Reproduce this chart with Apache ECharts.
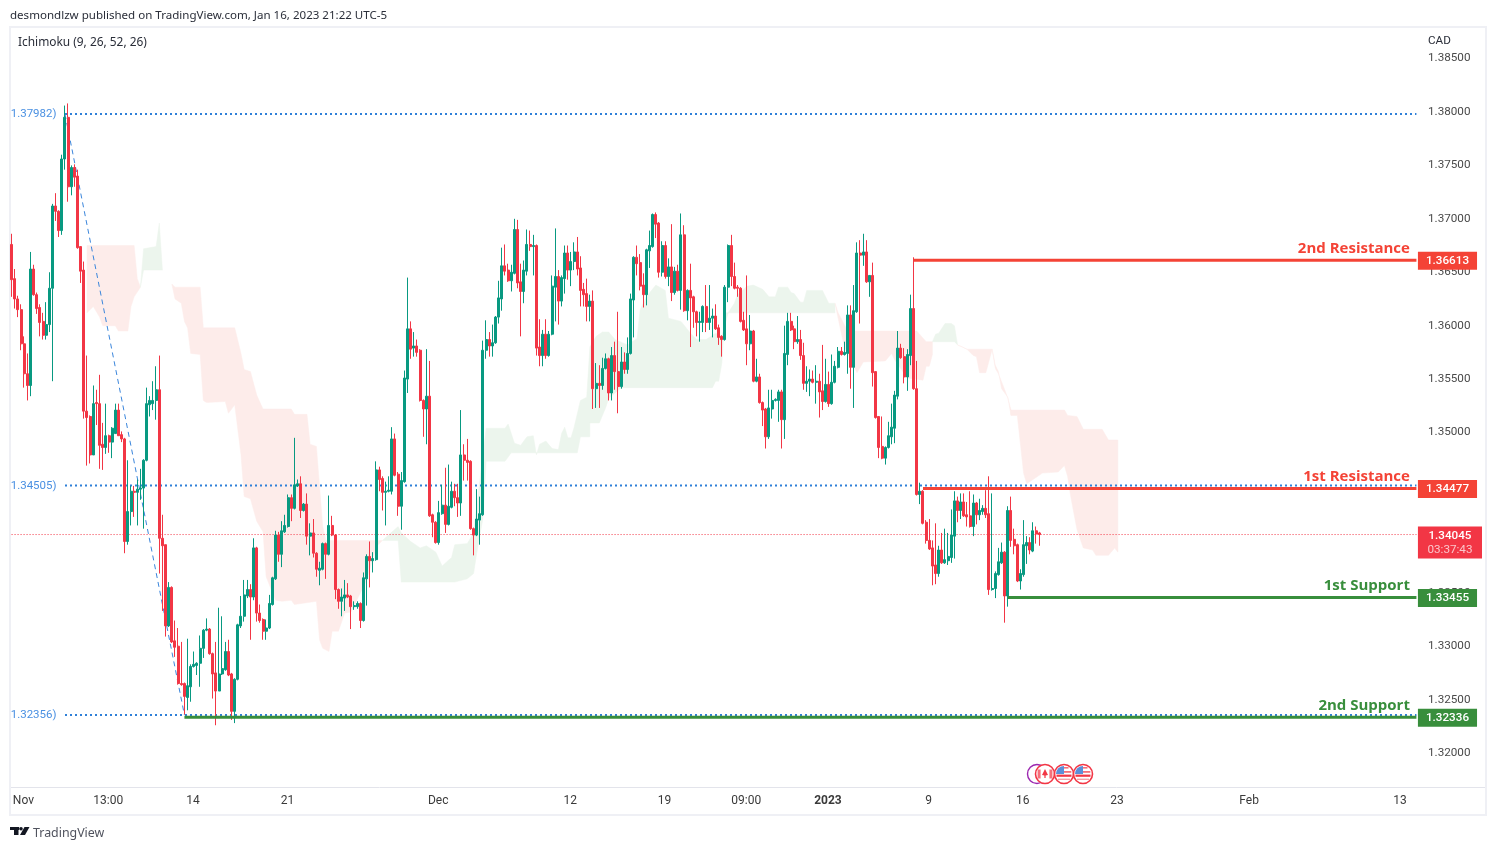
<!DOCTYPE html>
<html><head><meta charset="utf-8">
<style>html,body{margin:0;padding:0;background:#fff}#c{width:1496px;height:850px}</style>
<script src="https://cdn.jsdelivr.net/npm/echarts@6/dist/echarts.min.js"></script>
</head><body><div id="c"></div>
<script>
// All prices below are in units of 0.0001 (USD/CAD 4h candles)
const opens=[13676,13644,13625,13615,13583,13555,13544,13653,13629,13617,
13604,13591,13601,13635,13712,13707,13689,13756,13795,13730,
13748,13740,13674,13652,13520,13515,13479,13528,13527,13489,
13486,13497,13491,13499,13521,13498,13494,13398,13426,13445,
13444,13447,13448,13474,13526,13527,13530,13540,13401,13395,
13319,13355,13305,13300,13265,13265,13252,13262,13281,13282,
13284,13298,13315,13316,13293,13275,13258,13274,13278,13295,
13274,13239,13269,13319,13328,13347,13353,13346,13392,13331,
13325,13314,13317,13339,13363,13404,13386,13407,13412,13439,
13429,13450,13452,13427,13433,13403,13406,13387,13371,13372,
13396,13386,13413,13404,13353,13342,13345,13348,13347,13337,
13337,13340,13324,13363,13384,13380,13381,13465,13457,13444,
13445,13445,13494,13461,13431,13454,13550,13597,13579,13581,
13577,13530,13522,13534,13423,13416,13397,13424,13432,13414,
13430,13445,13439,13434,13479,13474,13473,13410,13404,13418,
13423,13577,13587,13581,13584,13608,13625,13656,13652,13642,
13649,13690,13641,13632,13651,13676,13674,13675,13580,13572,
13592,13572,13592,13636,13646,13623,13644,13668,13652,13660,
13669,13654,13634,13630,13618,13623,13541,13546,13544,13560,
13569,13537,13572,13557,13543,13566,13559,13574,13624,13664,
13659,13638,13629,13670,13674,13704,13696,13650,13675,13646,
13655,13631,13651,13633,13685,13614,13633,13627,13613,13603,
13603,13618,13603,13607,13609,13598,13590,13587,13636,13675,
13646,13636,13635,13605,13597,13583,13595,13548,13552,13528,
13522,13496,13522,13530,13530,13538,13512,13573,13604,13597,
13585,13587,13572,13546,13548,13550,13547,13548,13539,13529,
13545,13527,13547,13561,13576,13573,13574,13610,13561,13613,
13668,13666,13669,13641,13647,13557,13515,13487,13476,13486,
13496,13504,13534,13579,13571,13552,13572,13616,13541,13442,
13445,13416,13399,13392,13376,13368,13390,13378,13380,13383,
13403,13436,13427,13435,13423,13422,13412,13434,13423,13426,
13429,13424,13353,13354,13367,13378,13388,13347,13427,13400,
13395,13361,13367,13394,13397,13389,13408,13406];
const closes=[13643,13625,13615,13583,13555,13544,13653,13629,13616,13603,
13591,13601,13635,13712,13707,13689,13756,13795,13730,13748,
13739,13673,13651,13520,13514,13479,13527,13527,13488,13486,
13497,13491,13504,13521,13497,13494,13398,13426,13445,13444,
13447,13448,13474,13527,13530,13530,13540,13401,13394,13319,
13355,13304,13299,13265,13264,13253,13263,13281,13283,13284,
13298,13315,13316,13293,13274,13258,13274,13279,13295,13273,
13239,13269,13320,13328,13348,13353,13346,13392,13331,13324,
13314,13317,13340,13364,13404,13386,13408,13413,13439,13429,
13451,13452,13427,13433,13403,13406,13387,13372,13373,13396,
13386,13413,13404,13353,13342,13346,13348,13346,13337,13338,
13340,13324,13364,13384,13380,13382,13465,13456,13444,13445,
13446,13494,13460,13431,13455,13551,13597,13578,13581,13575,
13530,13522,13534,13422,13416,13397,13425,13432,13414,13431,
13445,13439,13434,13479,13474,13472,13410,13404,13419,13424,
13577,13587,13581,13584,13608,13626,13656,13651,13642,13650,
13690,13640,13632,13652,13676,13674,13675,13579,13572,13592,
13572,13592,13637,13646,13623,13645,13668,13652,13660,13669,
13653,13633,13629,13618,13623,13541,13546,13544,13560,13569,
13537,13572,13557,13543,13566,13559,13574,13625,13664,13658,
13637,13629,13671,13675,13704,13695,13650,13675,13646,13655,
13631,13651,13633,13685,13614,13633,13626,13613,13603,13604,
13618,13603,13607,13609,13597,13589,13587,13636,13675,13646,
13635,13635,13604,13596,13583,13595,13548,13552,13528,13521,
13496,13523,13530,13531,13538,13512,13574,13604,13596,13585,
13587,13572,13546,13548,13550,13547,13548,13538,13529,13545,
13527,13547,13562,13576,13573,13575,13610,13561,13614,13668,
13666,13669,13641,13647,13556,13514,13486,13476,13486,13497,
13505,13535,13579,13570,13552,13573,13616,13541,13442,13445,
13415,13399,13391,13375,13368,13390,13378,13381,13384,13404,
13436,13427,13435,13422,13421,13412,13434,13423,13427,13429,
13423,13353,13354,13368,13379,13388,13347,13427,13399,13394,
13361,13368,13395,13397,13390,13408,13405,13404.5];
const lows=[13627,13616,13608,13577,13542,13530,13534,13628,13611,13590,
13587,13587,13594,13548,13698,13683,13685,13746,13716,13722,
13730,13672,13640,13513,13469,13471,13479,13507,13466,13465,
13480,13481,13476,13499,13497,13491,13387,13395,13413,13421,
13413,13437,13410,13473,13515,13521,13512,13368,13333,13309,
13318,13303,13290,13264,13263,13236,13240,13248,13280,13273,
13262,13289,13314,13292,13251,13226,13258,13273,13277,13272,
13231,13228,13268,13317,13323,13345,13306,13343,13323,13322,
13306,13306,13316,13338,13362,13379,13374,13406,13411,13417,
13428,13449,13420,13426,13395,13385,13383,13365,13357,13371,
13363,13385,13403,13344,13335,13328,13333,13345,13316,13334,
13335,13317,13323,13338,13355,13369,13380,13445,13427,13413,
13444,13442,13459,13422,13409,13453,13537,13569,13571,13571,
13529,13496,13489,13421,13402,13396,13395,13423,13406,13413,
13429,13431,13421,13422,13455,13455,13409,13385,13403,13395,
13422,13569,13571,13571,13583,13602,13614,13647,13641,13632,
13648,13635,13590,13621,13647,13670,13647,13572,13562,13562,
13569,13571,13591,13604,13601,13618,13630,13643,13637,13652,
13647,13618,13618,13604,13604,13522,13523,13523,13540,13559,
13530,13530,13540,13518,13541,13555,13555,13573,13589,13647,
13633,13617,13619,13654,13673,13682,13645,13646,13644,13637,
13623,13629,13632,13615,13613,13605,13580,13598,13590,13585,
13594,13594,13596,13589,13596,13582,13571,13586,13622,13637,
13634,13627,13603,13595,13563,13577,13547,13547,13527,13506,
13485,13494,13513,13529,13510,13485,13494,13563,13595,13578,
13583,13568,13540,13538,13534,13546,13527,13514,13521,13528,
13524,13526,13546,13560,13572,13572,13555,13541,13523,13612,
13602,13656,13640,13627,13543,13513,13476,13475,13470,13485,
13489,13490,13531,13569,13546,13539,13563,13540,13441,13433,
13414,13396,13390,13357,13358,13365,13377,13377,13376,13378,
13382,13416,13419,13421,13412,13411,13403,13414,13418,13423,
13420,13348,13352,13345,13366,13377,13322,13337,13393,13386,
13360,13353,13365,13377,13386,13388,13396,13394];
const highs=[13686,13653,13628,13620,13590,13574,13669,13657,13631,13620,
13612,13622,13650,13714,13724,13708,13760,13806,13808,13750,
13751,13746,13674,13660,13572,13516,13544,13540,13554,13509,
13527,13498,13505,13527,13527,13501,13495,13474,13450,13450,
13456,13466,13475,13542,13534,13548,13562,13572,13423,13395,
13360,13356,13324,13317,13304,13266,13307,13283,13295,13285,
13310,13316,13326,13317,13294,13304,13336,13328,13304,13306,
13275,13270,13321,13347,13362,13362,13358,13401,13393,13339,
13326,13325,13348,13365,13408,13407,13417,13423,13442,13442,
13495,13456,13459,13434,13443,13415,13419,13388,13379,13397,
13397,13441,13422,13405,13354,13354,13362,13359,13348,13342,
13342,13341,13369,13386,13398,13388,13473,13468,13459,13454,
13459,13505,13499,13463,13463,13558,13645,13604,13594,13587,
13578,13531,13578,13567,13424,13417,13436,13451,13467,13470,
13454,13452,13452,13521,13489,13494,13474,13411,13447,13440,
13586,13605,13594,13601,13609,13642,13673,13676,13658,13657,
13700,13699,13658,13661,13690,13689,13685,13676,13606,13596,
13606,13595,13647,13691,13652,13647,13675,13675,13669,13678,
13683,13665,13640,13644,13629,13633,13565,13563,13570,13574,
13570,13580,13585,13613,13580,13575,13589,13630,13665,13675,
13667,13649,13672,13689,13705,13706,13697,13679,13679,13663,
13695,13655,13657,13705,13694,13634,13658,13628,13614,13613,
13619,13638,13638,13616,13620,13601,13591,13638,13676,13685,
13659,13638,13636,13613,13647,13610,13596,13569,13555,13529,
13523,13540,13540,13532,13540,13540,13600,13612,13612,13600,
13609,13596,13584,13562,13559,13558,13563,13555,13582,13569,
13557,13573,13567,13580,13580,13585,13619,13619,13638,13678,
13680,13686,13680,13647,13659,13557,13515,13515,13487,13510,
13527,13539,13595,13583,13579,13578,13629,13664,13567,13453,
13446,13418,13419,13399,13415,13394,13406,13410,13406,13428,
13445,13440,13443,13443,13435,13445,13442,13435,13438,13432,
13446,13459,13443,13370,13392,13397,13389,13431,13440,13410,
13396,13372,13418,13403,13402,13416,13412,13407];

// Ichimoku cloud outlines: [candle index, price]
const kumoRed1=[[24,13675],[39,13675],[40,13644],[41,13636],[39,13627],[38,13618],[37,13595],[34,13595],[33,13600],[29,13600],[28,13608],[26,13618],[24,13612]];
const kumoGreen1=[[41,13636],[42,13672],[46,13674],[47,13696],[48,13652],[42,13652]];
const kumoRed2=[[51,13639],[52,13636],[60,13636],[61,13598],[71,13598],[73,13574],[74,13559],[76,13557],[78,13535],[80,13522],[89,13522],[90,13517],[94,13517],[95,13489],[97,13487],[99,13412],[100,13399],[118,13399],[116,13393],[113,13362],[108,13332],[106,13331],[104,13314],[102,13314],[101,13295],[99,13298],[98,13306],[97,13342],[90,13339],[89,13343],[86,13342],[84,13343],[81,13365],[80,13407],[78,13417],[76,13438],[74,13440],[73,13479],[71,13526],[69,13518],[68,13529],[62,13528],[61,13530],[60,13573],[57,13574],[56,13598],[55,13604],[54,13621],[52,13625]];
const kumoGreen2=[[118,13399],[123,13412],[124,13406],[127,13398],[130,13392],[132,13394],[135,13388],[137,13375],[140,13383],[141,13395],[145,13396],[147,13406],[151,13504],[157,13504],[158,13508],[159,13499],[160,13490],[162,13488],[164,13496],[166,13497],[167,13479],[168,13489],[170,13492],[172,13485],[174,13484],[175,13499],[176,13505],[177,13495],[178,13495],[179,13505],[181,13530],[183,13533],[184,13580],[186,13590],[188,13594],[190,13594],[192,13587],[196,13582],[199,13588],[200,13615],[202,13627],[205,13638],[208,13633],[209,13607],[213,13604],[216,13593],[218,13587],[221,13587],[224,13593],[226,13590],[228,13612],[230,13621],[231,13629],[234,13637],[236,13638],[239,13634],[241,13627],[243,13627],[244,13636],[247,13636],[248,13631],[249,13630],[251,13622],[252,13622],[253,13633],[258,13633],[260,13621],[262,13621],[262,13612],[227,13612],[226,13565],[225,13548],[224,13548],[223,13542],[194,13542],[190,13532],[189,13523],[187,13509],[184,13509],[184,13496],[181,13496],[180,13481],[159,13481],[157,13473],[151,13473],[150,13420],[148,13387],[147,13368],[145,13363],[141,13360],[124,13360],[123,13399]];
const kumoRed3=[[262,13621],[263,13612],[266,13595],[288,13595],[291,13585],[293,13585],[293,13573],[292,13562],[291,13562],[290,13549],[285,13551],[281,13568],[280,13574],[278,13567],[271,13566],[269,13556],[268,13562],[265,13580],[264,13593]];
const kumoGreen3=[[293,13585],[294,13592],[295,13593],[297,13602],[299,13602],[300,13600],[301,13582],[300,13585]];
const kumoRed4=[[301,13582],[304,13578],[312,13578],[310,13556],[308,13556],[307,13571],[306,13572],[304,13578]];
const kumoRed5=[[312,13578],[313,13560],[314,13555],[316,13540],[317,13532],[318,13521],[318,13516],[317,13533],[315,13541],[314,13557],[313,13563]];
const kumoRed6=[[318,13521],[335,13521],[336,13516],[339,13515],[341,13503],[347,13503],[349,13493],[352,13493],[352,13388],[351,13392],[349,13385],[345,13385],[344,13390],[341,13392],[339,13409],[337,13440],[336,13459],[335,13469],[333,13463],[328,13462],[325,13456],[323,13452],[322,13462],[320,13516],[318,13516]];

const axisCount=448;
const tickIndex=[4,31,58,88,136,178,208,234,260,292,322,352,394,442];
const tickText=['Nov','13:00','14','21','Dec','12','19','09:00','2023','9','16','23','Feb','13'];
const priceTicks=[1.32,1.325,1.33,1.335,1.34,1.345,1.35,1.355,1.36,1.365,1.37,1.375,1.38,1.385];

const swingPrices=[1.37982,1.34505,1.32356];
const swingStart=17;
const zigzagIndex=[17,55];
const zigzagPrices=[1.3798,1.32356];
const lastPrice=1.34045;
const countdown='03:37:43';
const levelNames=['2nd Resistance','1st Resistance','1st Support','2nd Support'];
const levelPrices=[1.36613,1.34477,1.33455,1.32336];
const levelStart=[287,290,317,55];
const levelColors=['#F44336','#F44336','#388E3C','#388E3C'];

const UP='#089981',DOWN='#F23645',RED_K='#FDECEA',GREEN_K='#ECF5ED',BLUE='#2F80D8';
const FONT='Roboto, "Noto Sans", sans-serif';
const P=v=>v/10000;
const lastIdx=axisCount-1;

const categories=Array.from({length:axisCount},(_,i)=>{const k=tickIndex.indexOf(i);return k>=0?tickText[k]:'';});
const candles=opens.map((o,i)=>[P(o),P(closes[i]),P(lows[i]),P(highs[i])]);
const kumos=[[kumoRed1,RED_K],[kumoGreen1,GREEN_K],[kumoRed2,RED_K],[kumoGreen2,GREEN_K],[kumoRed3,RED_K],[kumoGreen3,GREEN_K],[kumoRed4,RED_K],[kumoRed5,RED_K],[kumoRed6,RED_K]];

const series=[];
series.push({type:'custom',coordinateSystem:'cartesian2d',z:1,silent:true,clip:true,
  data:kumos.map((k,i)=>[k[0][0][0],i]),encode:{x:0,y:1},
  renderItem:(p,api)=>{const k=kumos[p.dataIndex];
    return {type:'polygon',shape:{points:k[0].map(q=>api.coord([q[0],P(q[1])]))},style:{fill:k[1],stroke:k[1],lineWidth:0.5}};}
});
series.push({type:'line',z:2,symbol:'none',silent:true,data:[[0,lastPrice],[lastIdx,lastPrice]],lineStyle:{color:DOWN,width:1,type:[1,2]}});
series.push({type:'line',z:2,symbol:'none',silent:true,data:zigzagIndex.map((x,i)=>[x,zigzagPrices[i]]),lineStyle:{color:'#3B86DC',width:1,type:[5,4]}});
swingPrices.forEach(v=>series.push({type:'line',z:2,symbol:'none',silent:true,data:[[swingStart,v],[lastIdx,v]],lineStyle:{color:BLUE,width:2,type:[2,3]}}));
series.push({type:'candlestick',z:3,barWidth:2.5,silent:true,data:candles,
  itemStyle:{color:UP,color0:DOWN,borderColor:UP,borderColor0:DOWN,borderWidth:1}});
levelPrices.forEach((v,i)=>series.push({type:'line',z:4,symbol:'none',silent:true,data:[[levelStart[i],v],[lastIdx,v]],lineStyle:{color:levelColors[i],width:3}}));
const hidden={color:'transparent',opacity:1};
series.push({type:'scatter',z:5,silent:true,symbolSize:1,itemStyle:hidden,
  data:swingPrices.map(v=>({value:[swingStart,v],label:{show:true,position:'left',distance:8,offset:[0,0.5],color:'#4A90E2',fontFamily:FONT,fontSize:11.5,formatter:v.toFixed(5)+')'}}))});
series.push({type:'scatter',z:6,silent:true,symbolSize:1,itemStyle:hidden,
  data:levelPrices.map((v,i)=>({value:[lastIdx,v],label:{show:true,position:'left',distance:6,offset:[0,-11.5],color:levelColors[i],fontFamily:'"Open Sans",sans-serif',fontWeight:700,fontSize:15,formatter:levelNames[i]}}))});
series.push({type:'scatter',z:7,silent:true,symbolSize:1,itemStyle:hidden,
  data:levelPrices.map((v,i)=>({value:[lastIdx,v],label:{show:true,position:'right',distance:1,offset:[0,0.5],color:'#fff',backgroundColor:levelColors[i],fontFamily:FONT,fontSize:11.7,fontWeight:500,padding:[3.5,8,2.5,8],lineHeight:12,formatter:v.toFixed(5)}}))});
series.push({type:'scatter',z:7,silent:true,symbolSize:1,itemStyle:hidden,
  data:[{value:[lastIdx,lastPrice],label:{show:true,position:'right',distance:1,offset:[0,8],backgroundColor:DOWN,padding:[3,9.5,1,9.5],formatter:'{a|'+lastPrice.toFixed(5)+'}\n{b|'+countdown+'}',
    rich:{a:{color:'#fff',fontFamily:FONT,fontSize:11.7,fontWeight:500,lineHeight:14,align:'center'},b:{color:'#FBC5CA',fontFamily:FONT,fontSize:11.7,lineHeight:14,align:'center'}}}}]});

// Page furniture
const txt=(x,y,t,o)=>({type:'text',silent:true,x,y,style:Object.assign({text:t,fill:'#3a3a3a',font:'11.7px '+FONT,textVerticalAlign:'middle'},o||{})});
const rect=(x,y,w,h,fill)=>({type:'rect',silent:true,shape:{x,y,width:w,height:h},style:{fill}});
function usFlag(cx,cy){return [
 {type:'circle',silent:true,shape:{cx,cy,r:9.5},style:{fill:'#fff',stroke:DOWN,lineWidth:1.6}},
 {type:'sector',silent:true,shape:{cx,cy,r:8,r0:0,startAngle:Math.PI,endAngle:Math.PI*1.5},style:{fill:'#5B8FD9'}},
 rect(cx,cy-7,4.5,1.6,'#F5707A'),rect(cx,cy-3,7.3,1.8,'#F5707A'),rect(cx-7.5,cy+0.6,15,2.2,'#F23645'),rect(cx-6,cy+4.6,12,1.4,'#F5A0A6')];}
function caFlag(cx,cy){return [
 {type:'circle',silent:true,shape:{cx:cx-8,cy,r:9.5},style:{fill:'#fff',stroke:'#9C27B0',lineWidth:1.4}},
 {type:'circle',silent:true,shape:{cx,cy,r:9.5},style:{fill:'#fff',stroke:DOWN,lineWidth:1.6}},
 rect(cx-7.4,cy-4.5,3,9,'#F5707A'),rect(cx+4.4,cy-4.5,3,9,'#F5707A'),
 {type:'polygon',silent:true,shape:{points:[[cx,cy-5],[cx+3,cy+1],[cx+0.6,cy+1.5],[cx+0.6,cy+4],[cx-0.6,cy+4],[cx-0.6,cy+1.5],[cx-3,cy+1]]},style:{fill:'#F23645'}}];}
const graphics=[
 {type:'rect',silent:true,z:-1,shape:{x:10,y:27,width:1476,height:788},style:{fill:'none',stroke:'#EFF0F5',lineWidth:2}},
 {type:'line',silent:true,shape:{x1:11,y1:787.5,x2:1485,y2:787.5},style:{stroke:'#E3E4EB',lineWidth:1}},
 txt(10,15.5,'desmondlzw published on TradingView.com, Jan 16, 2023 21:22 UTC-5',{font:'11.56px "Noto Sans",sans-serif',fill:'#2a2e39'}),
 txt(18,42.5,'Ichimoku (9, 26, 52, 26)',{font:'11.9px "Noto Sans",sans-serif',fill:'#2a2e39'}),
 txt(1428,41,'CAD',{fill:'#2a2e39'}),
 txt(33,833,'TradingView',{font:'12.4px "Noto Sans",sans-serif',fill:'#50535E'}),
 rect(10,827,9,3,'#131722'),rect(14,827,4.5,8,'#131722'),
 {type:'circle',silent:true,shape:{cx:21,cy:828.8,r:1.8},style:{fill:'#131722'}},
 {type:'polygon',silent:true,shape:{points:[[24.5,827],[29.5,827],[25,835],[20,835]]},style:{fill:'#131722'}},
 ...caFlag(1045,774),...usFlag(1064,774),...usFlag(1083,774)
];

const chart=echarts.init(document.getElementById('c'),null,{renderer:'canvas'});
chart.setOption({
 animation:false,backgroundColor:'#fff',
 grid:{left:10,right:78,top:28,bottom:63,containLabel:false},
 legend:{show:false},tooltip:{show:false},
 xAxis:{type:'category',data:categories,boundaryGap:true,
   axisLine:{show:false},axisTick:{show:false},splitLine:{show:false},
   axisLabel:{show:true,margin:8,padding:[0,1.5,0,0],hideOverlap:false,interval:(i,v)=>v!=='',color:'#3a3a3a',fontFamily:FONT,fontSize:12,
     formatter:v=>v==='2023'?'{b|2023}':v,rich:{b:{fontWeight:700,color:'#3a3a3a',fontFamily:FONT,fontSize:12}}}},
 yAxis:{type:'value',position:'right',min:1.31682,max:1.38786,
   axisLine:{show:false},axisTick:{show:false},splitLine:{show:false},
   axisLabel:{show:true,margin:10,padding:[4,0,0,0],customValues:priceTicks,color:'#4a4a4a',fontFamily:FONT,fontSize:11.7,formatter:v=>v.toFixed(5)}},
 series,graphic:graphics
});
</script></body></html>
